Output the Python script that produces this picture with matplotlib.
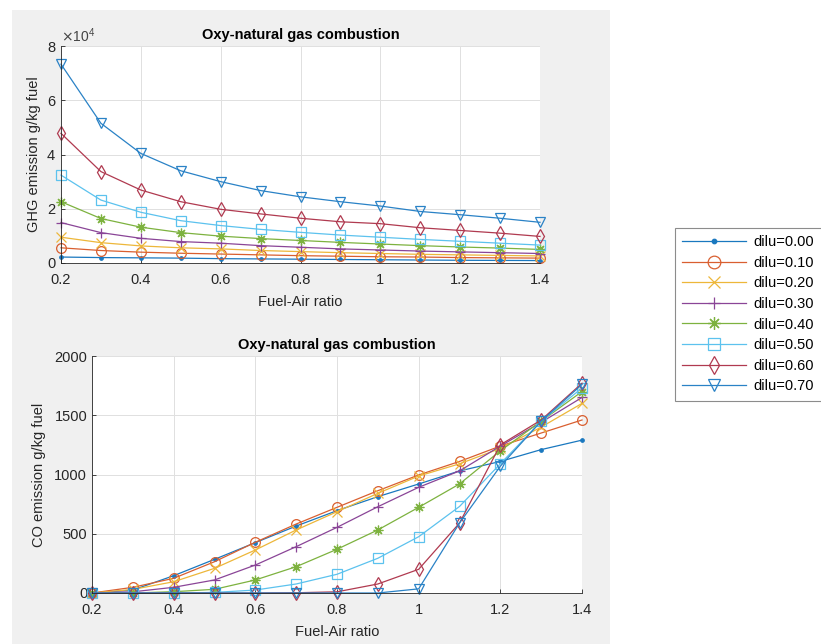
import matplotlib
matplotlib.use("Agg")
import matplotlib.pyplot as plt
from matplotlib.patches import Rectangle
from matplotlib.ticker import ScalarFormatter

plt.rcParams['font.family'] = ['Liberation Sans', 'DejaVu Sans']

fuel_air = [0.2, 0.3, 0.4, 0.5, 0.6, 0.7, 0.8, 0.9, 1.0, 1.1, 1.2, 1.3, 1.4]
labels = ['dilu=0.00', 'dilu=0.10', 'dilu=0.20', 'dilu=0.30',
          'dilu=0.40', 'dilu=0.50', 'dilu=0.60', 'dilu=0.70']

# GHG emission, g/kg fuel
ghg_000 = [2200, 2000, 1900, 1800, 1600, 1500, 1400, 1300, 1200, 1100, 1000, 950, 900]
ghg_010 = [5600, 4600, 4000, 3600, 3300, 3000, 2700, 2500, 2300, 2200, 2000, 1900, 1800]
ghg_020 = [9500, 7500, 6300, 5600, 5200, 4600, 4200, 3800, 3500, 3200, 3000, 2800, 2600]
ghg_030 = [14900, 11200, 9100, 7900, 7300, 6400, 5800, 5200, 4800, 4400, 4100, 3800, 3500]
ghg_040 = [22600, 16400, 13200, 11200, 9900, 9000, 8300, 7600, 7000, 6400, 5900, 5500, 5000]
ghg_050 = [32400, 23200, 18700, 15600, 13800, 12400, 11300, 10300, 9500, 8700, 8000, 7300, 6600]
ghg_060 = [47800, 33700, 26900, 22600, 19800, 18100, 16500, 15200, 14500, 13000, 12000, 11000, 9800]
ghg_070 = [73300, 51500, 40400, 34000, 30000, 26700, 24400, 22600, 21000, 19000, 17800, 16500, 15000]

# CO emission, g/kg fuel
co_000 = [0, 25, 146, 284, 425, 565, 695, 813, 920, 1030, 1110, 1210, 1290]
co_010 = [0, 48, 124, 264, 428, 582, 723, 863, 996, 1110, 1240, 1350, 1460]
co_020 = [0, 30, 95, 208, 363, 532, 686, 841, 987, 1090, 1220, 1400, 1600]
co_030 = [0, 10, 48, 110, 236, 391, 554, 728, 892, 1030, 1240, 1440, 1650]
co_040 = [0, 0, 11, 31, 110, 222, 369, 532, 723, 920, 1200, 1450, 1700]
co_050 = [0, 0, 0, 5, 25, 76, 158, 293, 475, 730, 1090, 1450, 1730]
co_060 = [0, 0, 0, 0, 0, 2, 10, 76, 200, 590, 1250, 1460, 1770]
co_070 = [0, 0, 0, 0, 0, 0, 0, 0, 35, 590, 1070, 1450, 1760]

ghg_series = [ghg_000, ghg_010, ghg_020, ghg_030, ghg_040, ghg_050, ghg_060, ghg_070]
co_series = [co_000, co_010, co_020, co_030, co_040, co_050, co_060, co_070]

colors = ['#1A78BF', '#D95F30', '#EDB73A', '#8A4597', '#7DB23F', '#5CC2EE', '#B03A50', '#2A82C6']
markers = ['.', 'o', 'x', '+', (8, 2, 0), 's', 'd', 'v']

W, H = 821, 644
fig = plt.figure(figsize=(W / 100, H / 100), dpi=100)
fig.patch.set_facecolor('white')
fig.patches.append(Rectangle((12 / W, 0), (610 - 12) / W, 1 - 10 / H,
                             transform=fig.transFigure, facecolor='#F0F0F0',
                             edgecolor='none', zorder=-10))

def ax_rect(l, t, r, b):
    return [l / W, 1 - b / H, (r - l) / W, (b - t) / H]

ax1 = fig.add_axes(ax_rect(61, 46, 540, 263))
ax2 = fig.add_axes(ax_rect(92, 356, 582, 593))

tcol = '#262626'
for ax in (ax1, ax2):
    ax.set_facecolor('white')
    for s in ('top', 'right'):
        ax.spines[s].set_visible(False)
    for s in ('left', 'bottom'):
        ax.spines[s].set_color(tcol)
        ax.spines[s].set_linewidth(0.6)
    ax.tick_params(direction='in', length=3, width=0.6, colors=tcol,
                   labelsize=10.5, labelcolor=tcol)
    ax.tick_params(axis='x', pad=7)
    ax.grid(True, color='#E0E0E0', linewidth=0.7)
    ax.set_axisbelow(True)
    ax.set_xlim(0.2, 1.4)
    ax.set_xticks([0.2, 0.4, 0.6, 0.8, 1.0, 1.2, 1.4])
    ax.set_xticklabels(['0.2', '0.4', '0.6', '0.8', '1', '1.2', '1.4'])
    ax.set_xlabel('Fuel-Air ratio', fontsize=10.5, color=tcol, labelpad=6)
    ax.set_title('Oxy-natural gas combustion', fontsize=10.5, fontweight='bold',
                 color='black', pad=5)

def style(m, c):
    if m == '.':
        return dict(marker=m, markerfacecolor=c, markeredgecolor=c, markersize=5)
    return dict(marker=m, markerfacecolor='none', markeredgecolor=c, markersize=7)

handles = []
for ys, c, m in zip(ghg_series, colors, markers):
    ax1.plot(fuel_air, ys, color=c, linewidth=0.9, markeredgewidth=0.9,
             clip_on=False, **style(m, c))
for ys, c, m, lab in zip(co_series, colors, markers, labels):
    h, = ax2.plot(fuel_air, ys, color=c, linewidth=0.9, markeredgewidth=0.9,
                  clip_on=False, label=lab, **style(m, c))
    handles.append(h)

ax1.set_ylim(0, 80000)
ax1.set_yticks([0, 20000, 40000, 60000, 80000])
fmt = ScalarFormatter(useMathText=True)
fmt.set_powerlimits((0, 0))
ax1.yaxis.set_major_formatter(fmt)
ax1.yaxis.get_offset_text().set_fontsize(10)
ax1.yaxis.get_offset_text().set_color('#444444')
ax1.set_ylabel('GHG emission g/kg fuel', fontsize=10.5, color=tcol, labelpad=4)

ax2.set_ylim(0, 2000)
ax2.set_yticks([0, 500, 1000, 1500, 2000])
ax2.set_ylabel('CO emission g/kg fuel', fontsize=10.5, color=tcol, labelpad=6)

leg = fig.legend(handles=handles, labels=labels, loc='upper left',
                 bbox_to_anchor=(675 / W, 1 - 228 / H), bbox_transform=fig.transFigure,
                 borderaxespad=0, fontsize=10.5, handlelength=4.4, handletextpad=0.5,
                 labelspacing=0.45, fancybox=False, framealpha=1, markerscale=1.3,
                 borderpad=0.5)
leg.get_frame().set_edgecolor('#8C8C8C')
leg.get_frame().set_linewidth(0.8)

fig.savefig('out.png', dpi=100)
